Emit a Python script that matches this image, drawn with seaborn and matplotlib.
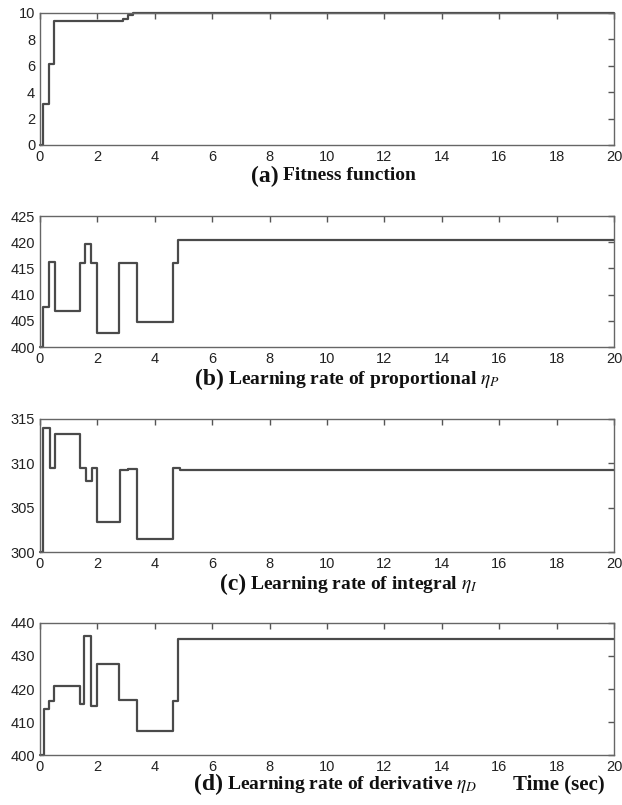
import numpy as np
import pandas as pd
import matplotlib
matplotlib.use("Agg")
import matplotlib.pyplot as plt
import seaborn as sns

# ---- data ----
t_a = [0, 0.12, 0.33, 0.50, 1.80, 2.88, 3.06, 3.24, 20]
v_a = [0, 3.1, 6.1, 9.35, 9.4, 9.5, 9.8, 10.0, 10.0]

t_b = [0, 0.12, 0.33, 0.53, 1.39, 1.56, 1.79, 2.00, 2.76, 3.39, 4.62, 4.82, 20]
v_b = [400, 407.7, 416.2, 406.8, 416.0, 419.6, 416.0, 402.6, 416.0, 404.8, 416.0, 420.5, 420.5]

t_c = [0, 0.12, 0.35, 0.53, 1.39, 1.59, 1.82, 2.00, 2.79, 3.06, 3.39, 4.62, 4.88, 20]
v_c = [300, 314.0, 309.5, 313.3, 309.5, 308.0, 309.5, 303.4, 309.3, 309.4, 301.5, 309.5, 309.2, 309.2]

t_d = [0, 0.14, 0.33, 0.50, 1.38, 1.55, 1.79, 2.00, 2.76, 3.39, 4.62, 4.82, 20]
v_d = [400, 414.0, 416.5, 421.0, 415.5, 436.0, 415.0, 427.5, 416.8, 407.2, 416.5, 435.0, 435.0]

x_ticks = [0, 2, 4, 6, 8, 10, 12, 14, 16, 18, 20]
ylims = [(0, 10), (400, 425), (300, 315), (400, 440)]
y_ticks = [[0, 2, 4, 6, 8, 10], [400, 405, 410, 415, 420, 425],
           [300, 305, 310, 315], [400, 410, 420, 430, 440]]
panel_tags = ["(a)", "(b)", "(c)", "(d)"]
titles = [r"Fitness function",
          r"Learning rate of proportional $\eta_P$",
          r"Learning rate of integral $\eta_I$",
          r"Learning rate of derivative $\eta_D$"]
x_label = "Time (sec)"

sns.set_style("white")
plt.rcParams["font.family"] = ["Liberation Sans", "DejaVu Sans"]
plt.rcParams["mathtext.fontset"] = "stix"

fig = plt.figure(figsize=(6.22, 8.05), dpi=100)
W = 622.0
H = 805.0
left, right = 40, 614
boxes = [(12.7, 145), (216, 347), (419, 552), (623, 755)]
title_y = [176, 379, 584, 784]
split_x = [283, 228, 250, 227]

serif = ["Liberation Serif", "DejaVu Serif"]
series = [(t_a, v_a), (t_b, v_b), (t_c, v_c), (t_d, v_d)]
line_col = "#4a4a4a"
for i, ((top, bot), (t, v)) in enumerate(zip(boxes, series)):
    ax = fig.add_axes([left / W, 1 - bot / H, (right - left) / W, (bot - top) / H])
    df = pd.DataFrame({"t": t, "v": v})
    sns.lineplot(data=df, x="t", y="v", ax=ax, drawstyle="steps-post",
                 color=line_col, linewidth=1.6, clip_on=False)
    ax.set_xlim(0, 20)
    ax.set_ylim(*ylims[i])
    ax.set_xticks(x_ticks)
    ax.set_yticks(y_ticks[i])
    ax.set_xlabel("")
    ax.set_ylabel("")
    ax.tick_params(direction="in", top=True, right=True, length=4, width=1,
                   color="#555555", labelsize=10.5, labelcolor="#222222", pad=3.5)
    for s in ax.spines.values():
        s.set_color("#666666")
        s.set_linewidth(1.0)
    fig.text((split_x[i] - 4) / W, 1 - title_y[i] / H, panel_tags[i],
             ha="right", va="center", fontsize=17, fontweight="bold",
             family=serif, color="#111111")
    fig.text(split_x[i] / W, 1 - title_y[i] / H, titles[i],
             ha="left", va="center", fontsize=14, fontweight="bold",
             family=serif, color="#111111")

fig.text(513 / W, 1 - 784 / H, x_label, ha="left", va="center",
         fontsize=15, fontweight="bold", family=serif, color="#111111")

fig.savefig("out.png", dpi=100, facecolor="white")
